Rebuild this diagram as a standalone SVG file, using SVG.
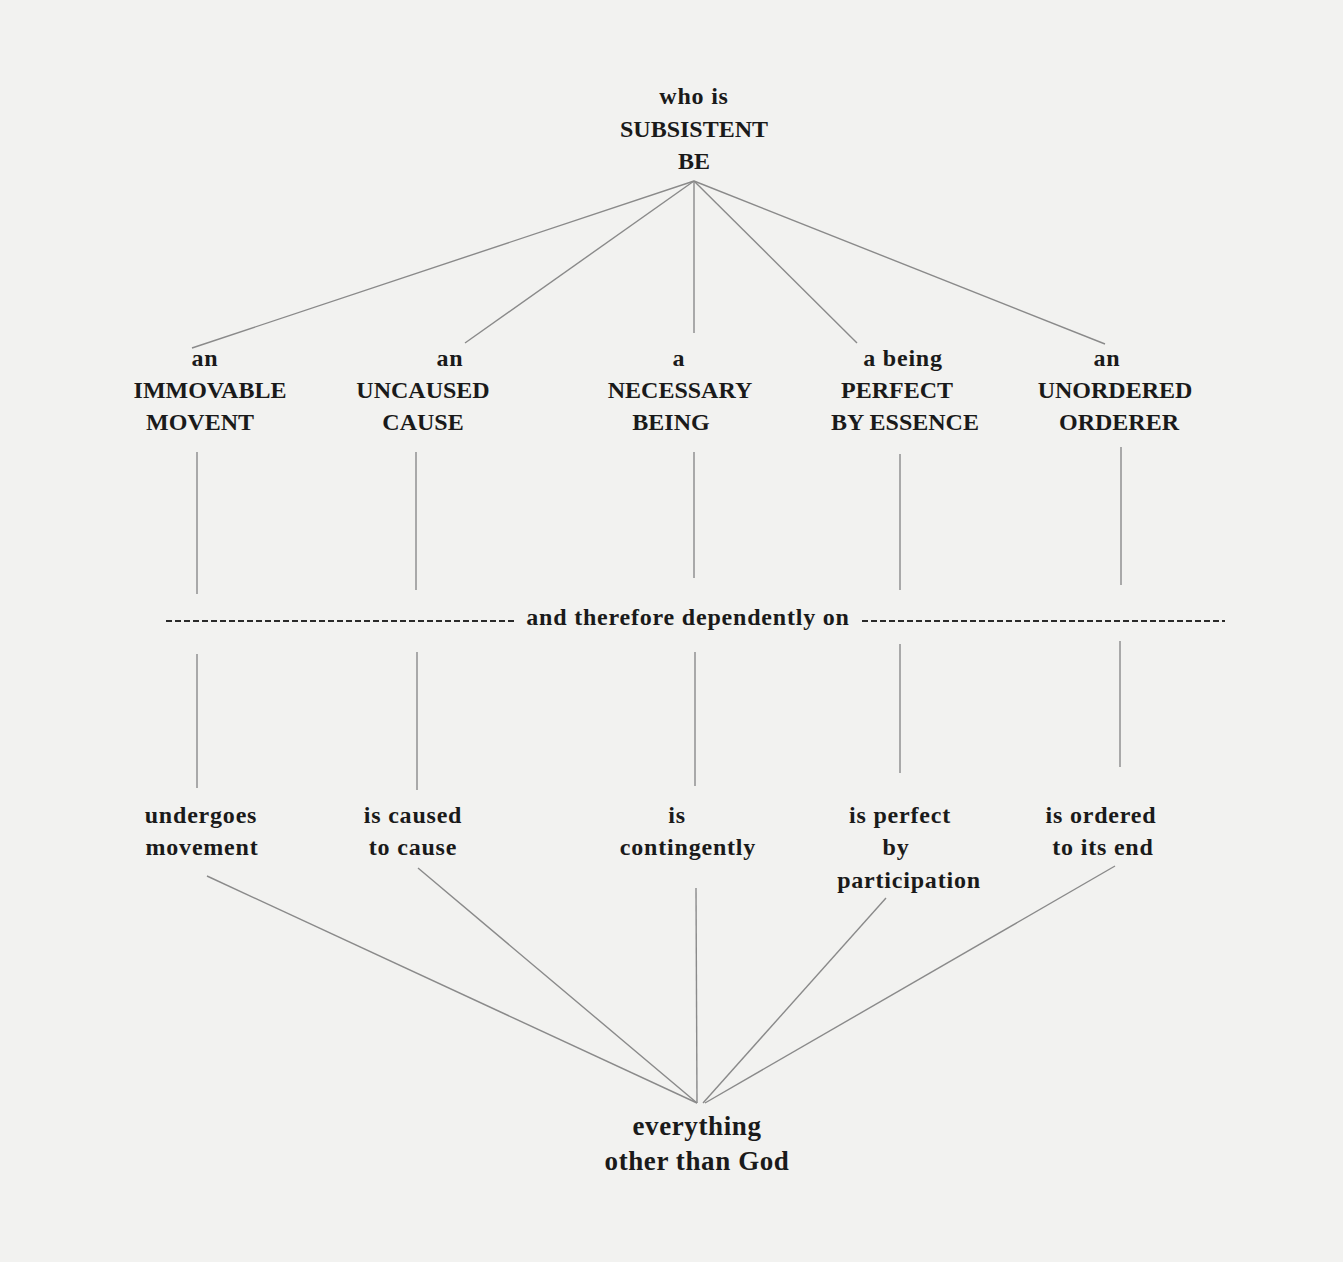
<svg xmlns="http://www.w3.org/2000/svg" width="1343" height="1262" viewBox="0 0 1343 1262">
<style>
.t{font-family:"Liberation Serif","Times New Roman",serif;font-weight:bold;font-size:24px;fill:#1a1a1a;text-anchor:middle}
.l{letter-spacing:0.8px}
.b{font-size:27px;letter-spacing:0.6px}
.c{stroke:#8a8a8a;stroke-width:1.4;fill:none}
.d{stroke:#2a2a2a;stroke-width:1.8;stroke-dasharray:6 3;fill:none}
</style>
<rect width="1343" height="1262" fill="#f2f2f0"/>
<g id="connectors">
<line class="c" x1="694" y1="181" x2="192" y2="348"/>
<line class="c" x1="694" y1="181" x2="465" y2="343"/>
<line class="c" x1="694" y1="181" x2="694" y2="333"/>
<line class="c" x1="694" y1="181" x2="857" y2="343"/>
<line class="c" x1="694" y1="181" x2="1105" y2="344"/>
<line class="c" x1="197" y1="452" x2="197" y2="594"/>
<line class="c" x1="416" y1="452" x2="416" y2="590"/>
<line class="c" x1="694" y1="452" x2="694" y2="578"/>
<line class="c" x1="900" y1="454" x2="900" y2="590"/>
<line class="c" x1="1121" y1="447" x2="1121" y2="585"/>
<line class="c" x1="197" y1="654" x2="197" y2="788"/>
<line class="c" x1="417" y1="652" x2="417" y2="790"/>
<line class="c" x1="695" y1="652" x2="695" y2="786"/>
<line class="c" x1="900" y1="644" x2="900" y2="773"/>
<line class="c" x1="1120" y1="641" x2="1120" y2="767"/>
<line class="c" x1="207" y1="876" x2="697" y2="1103"/>
<line class="c" x1="418" y1="868" x2="697" y2="1103"/>
<line class="c" x1="696" y1="888" x2="697" y2="1103"/>
<line class="c" x1="886" y1="898" x2="703" y2="1103"/>
<line class="c" x1="1115" y1="866" x2="705" y2="1103"/>
<line class="d" x1="166" y1="621" x2="517" y2="621"/>
<line class="d" x1="862" y1="621" x2="1225" y2="621"/>
</g>
<g id="top"><text class="t l" x="694" y="104">who is</text><text class="t" x="694" y="137">SUBSISTENT</text><text class="t" x="694" y="169">BE</text></g>
<g id="immovable"><text class="t l" x="205" y="366">an</text><text class="t" x="210" y="398">IMMOVABLE</text><text class="t" x="200" y="430">MOVENT</text></g>
<g id="uncaused"><text class="t l" x="450" y="366">an</text><text class="t" x="423" y="398">UNCAUSED</text><text class="t" x="423" y="430">CAUSE</text></g>
<g id="necessary"><text class="t l" x="679" y="366">a</text><text class="t" x="680" y="398">NECESSARY</text><text class="t" x="671" y="430">BEING</text></g>
<g id="perfect"><text class="t l" x="903" y="366">a being</text><text class="t" x="897" y="398">PERFECT</text><text class="t" x="905" y="430">BY ESSENCE</text></g>
<g id="unordered"><text class="t l" x="1107" y="366">an</text><text class="t" x="1115" y="398">UNORDERED</text><text class="t" x="1119" y="430">ORDERER</text></g>
<g id="dependently"><text class="t l" x="688" y="625">and therefore dependently on</text></g>
<g id="undergoes"><text class="t l" x="201" y="823">undergoes</text><text class="t l" x="202" y="855">movement</text></g>
<g id="iscaused"><text class="t l" x="413" y="823">is caused</text><text class="t l" x="413" y="855">to cause</text></g>
<g id="contingently"><text class="t l" x="677" y="823">is</text><text class="t l" x="688" y="855">contingently</text></g>
<g id="participation"><text class="t l" x="900" y="823">is perfect</text><text class="t l" x="896" y="855">by</text><text class="t l" x="909" y="888">participation</text></g>
<g id="ordered"><text class="t l" x="1101" y="823">is ordered</text><text class="t l" x="1103" y="855">to its end</text></g>
<g id="everything"><text class="t b" x="697" y="1135">everything</text><text class="t b" x="697" y="1170">other than God</text></g>
</svg>
